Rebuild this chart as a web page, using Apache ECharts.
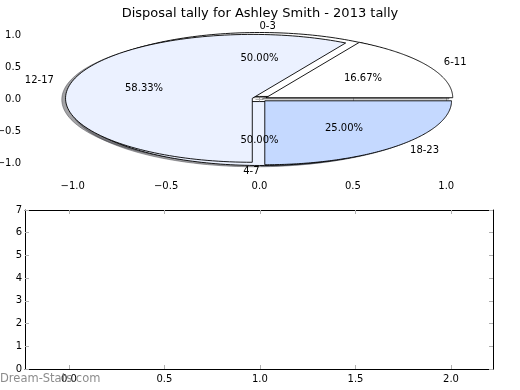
<!DOCTYPE html>
<html>
<head>
<meta charset="utf-8">
<script src="https://cdn.jsdelivr.net/npm/echarts@6/dist/echarts.min.js"></script>
<style>html,body{margin:0;padding:0;background:#fff}#c{width:520px;height:390px}</style>
</head>
<body>
<div id="c"></div>
<script>
// ---- data ----
const titleText = 'Disposal tally for Ashley Smith - 2013 tally';
const pie1Labels = ['0-3', '4-7'];
const pie1Values = [1, 1];
const pie2Labels = ['6-11', '12-17', '18-23'];
const pie2Values = [2, 7, 3];
const pieTicks = [-1.0, -0.5, 0.0, 0.5, 1.0];
const barXTicks = [0.0, 0.5, 1.0, 1.5, 2.0];
const barYTicks = [0, 1, 2, 3, 4, 5, 6, 7];
const sliceColors = ['#ffffff', '#ebf1ff', '#c5d9ff'];
const watermark = 'Dream-Stats.com';

const EXPLODE = 0.04;
const FONT = 'DejaVu Sans';

function buildWedges(labels, values) {
  const total = values.reduce((a, b) => a + b, 0);
  let acc = 0;
  return values.map((v, i) => {
    const t1 = acc / total * 360;
    acc += v;
    const t2 = acc / total * 360;
    return { label: labels[i], pct: (v / total * 100).toFixed(2) + '%', t1, t2, color: sliceColors[i % sliceColors.length] };
  });
}
const wedges = buildWedges(pie1Labels, pie1Values).concat(buildWedges(pie2Labels, pie2Values));

function wedgeGeom(w) {
  const mid = (w.t1 + w.t2) / 2 * Math.PI / 180;
  const cx = EXPLODE * Math.cos(mid), cy = EXPLODE * Math.sin(mid);
  return { mid, cx, cy };
}
function wedgePoints(api, w, ox, oy) {
  const g = wedgeGeom(w);
  const pts = [api.coord([g.cx + ox, g.cy + oy])];
  const n = 120;
  for (let k = 0; k <= n; k++) {
    const a = (w.t1 + (w.t2 - w.t1) * k / n) * Math.PI / 180;
    pts.push(api.coord([g.cx + ox + Math.cos(a), g.cy + oy + Math.sin(a)]));
  }
  return pts;
}
function shade(hex) {
  const r = parseInt(hex.slice(1, 3), 16) * 0.3, gg = parseInt(hex.slice(3, 5), 16) * 0.3, b = parseInt(hex.slice(5, 7), 16) * 0.3;
  return 'rgba(' + Math.round(r) + ',' + Math.round(gg) + ',' + Math.round(b) + ',0.5)';
}
const wedgeData = wedges.map((w, i) => [i]);

const tickStyle = { show: true, inside: true, length: 4, lineStyle: { color: '#b0b0b0', width: 1 } };
const fmt = v => (v < 0 ? '\u2212' : '') + Math.abs(v).toFixed(1);

const chart = echarts.init(document.getElementById('c'), null, { renderer: 'canvas' });
chart.setOption({
  animation: false,
  backgroundColor: '#ffffff',
  title: {
    text: titleText, left: 'center', top: 2,
    textStyle: { fontFamily: FONT, fontSize: 13, fontWeight: 'normal', color: '#000' }
  },
  grid: [
    { left: 27, right: 28, top: 21, height: 156, containLabel: false, outerBoundsMode: 'none' },
    { left: 25, width: 468, top: 210, height: 159, containLabel: false, outerBoundsMode: 'none' }
  ],
  xAxis: [
    { type: 'value', gridIndex: 0, position: 'bottom', min: -1.245, max: 1.245,
      axisLine: { show: false }, splitLine: { show: false },
      axisTick: Object.assign({ customValues: pieTicks }, tickStyle),
      axisLabel: { customValues: pieTicks, formatter: fmt, margin: 4, fontFamily: FONT, fontSize: 10, color: '#000' } },
    { type: 'value', gridIndex: 0, position: 'top', min: -1.245, max: 1.245,
      axisLine: { show: false }, splitLine: { show: false },
      axisTick: Object.assign({ customValues: pieTicks }, tickStyle),
      axisLabel: { show: false } },
    { type: 'value', gridIndex: 1, position: 'bottom', min: -0.23, max: 2.22,
      axisLine: { show: true, onZero: false, lineStyle: { color: '#000', width: 1 } }, splitLine: { show: false },
      axisTick: Object.assign({ customValues: barXTicks }, tickStyle),
      axisLabel: { customValues: barXTicks, formatter: fmt, margin: 5, fontFamily: FONT, fontSize: 10, color: '#000' } },
    { type: 'value', gridIndex: 1, position: 'top', min: -0.23, max: 2.22,
      axisLine: { show: true, onZero: false, lineStyle: { color: '#000', width: 1 } }, splitLine: { show: false },
      axisTick: Object.assign({ customValues: barXTicks }, tickStyle),
      axisLabel: { show: false } }
  ],
  yAxis: [
    { type: 'value', gridIndex: 0, position: 'left', min: -1.22, max: 1.22,
      axisLine: { show: false }, splitLine: { show: false },
      axisTick: Object.assign({ customValues: pieTicks }, tickStyle),
      axisLabel: { customValues: pieTicks, formatter: fmt, margin: 6, fontFamily: FONT, fontSize: 10, color: '#000' } },
    { type: 'value', gridIndex: 0, position: 'right', min: -1.22, max: 1.22,
      axisLine: { show: false }, splitLine: { show: false },
      axisTick: Object.assign({ customValues: pieTicks }, tickStyle),
      axisLabel: { show: false } },
    { type: 'value', gridIndex: 1, position: 'left', min: 0, max: 7, interval: 1,
      axisLine: { show: true, onZero: false, lineStyle: { color: '#000', width: 1 } }, splitLine: { show: false },
      axisTick: Object.assign({ customValues: barYTicks }, tickStyle),
      axisLabel: { customValues: barYTicks, formatter: v => String(v), margin: 3, fontFamily: FONT, fontSize: 10, color: '#000' } },
    { type: 'value', gridIndex: 1, position: 'right', min: 0, max: 7, interval: 1,
      axisLine: { show: true, onZero: false, lineStyle: { color: '#000', width: 1 } }, splitLine: { show: false },
      axisTick: Object.assign({ customValues: barYTicks }, tickStyle),
      axisLabel: { show: false } }
  ],
  graphic: [
    { type: 'text', left: 0, top: 373, z: 100,
      style: { text: watermark, font: '11.5px "' + FONT + '"', fill: 'rgba(120,120,120,0.85)' } }
  ],
  series: [
    { // shadows
      type: 'custom', xAxisIndex: 0, yAxisIndex: 0, z: 1, data: wedgeData,
      renderItem: (params, api) => {
        const w = wedges[params.dataIndex];
        const c = shade(w.color);
        return { type: 'polygon', shape: { points: wedgePoints(api, w, -0.02, -0.02) },
                 style: { fill: c, stroke: c, lineWidth: 1 } };
      }
    },
    { // wedges
      type: 'custom', xAxisIndex: 0, yAxisIndex: 0, z: 2, data: wedgeData,
      renderItem: (params, api) => {
        const w = wedges[params.dataIndex];
        return { type: 'polygon', shape: { points: wedgePoints(api, w, 0, 0) },
                 style: { fill: w.color, stroke: '#000', lineWidth: 0.9 } };
      }
    },
    { // labels
      type: 'custom', xAxisIndex: 0, yAxisIndex: 0, z: 3, data: wedgeData,
      renderItem: (params, api) => {
        const w = wedges[params.dataIndex];
        const g = wedgeGeom(w);
        const lx = 1.1 * Math.cos(g.mid), ly = 1.1 * Math.sin(g.mid);
        const lp = api.coord([g.cx + lx, g.cy + ly]);
        const pp = api.coord([g.cx + 0.6 * Math.cos(g.mid), g.cy + 0.6 * Math.sin(g.mid)]);
        const ha = lx > 0 ? 'left' : 'right';
        return { type: 'group', children: [
          { type: 'text', style: { text: w.label, x: lp[0], y: lp[1], align: ha, textAlign: ha, verticalAlign: 'middle', textVerticalAlign: 'middle', font: '10px "' + FONT + '"', fill: '#000' } },
          { type: 'text', style: { text: w.pct, x: pp[0], y: pp[1], align: 'center', textAlign: 'center', verticalAlign: 'middle', textVerticalAlign: 'middle', font: '10px "' + FONT + '"', fill: '#000' } }
        ] };
      }
    }
  ]
});
</script>
</body>
</html>
